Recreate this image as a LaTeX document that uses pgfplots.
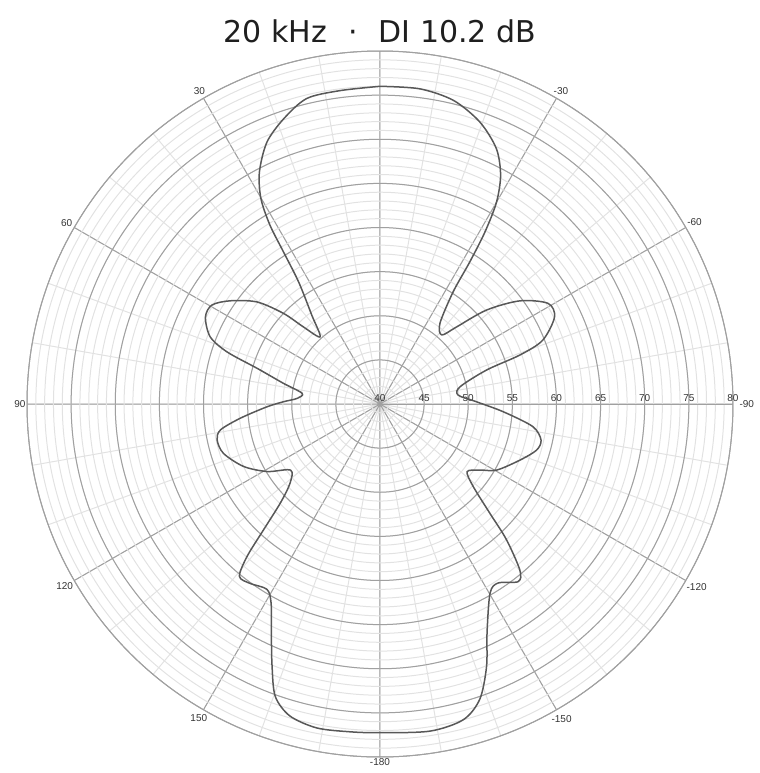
\documentclass[border=0pt]{standalone}
\usepackage{fontspec}
\setmainfont{DejaVu Sans}
\newfontfamily\tickfont{Liberation Sans}
\usepackage{pgfplots}
\usepackage{pgfplotstable}
\usepgfplotslibrary{polar}
\pgfplotsset{compat=1.18}

\definecolor{curve}{HTML}{585858}
\definecolor{majgrid}{HTML}{A0A0A0}
\definecolor{mingrid}{HTML}{E2E2E2}
\definecolor{ticktext}{HTML}{333333}

% angle: 0 = front (top), positive to the left; level in dB
\pgfplotstableread{
deg db
0 76.0
7.3 75.8
13.5 75.6
18.7 74.1
23.4 72.3
27.5 69.6
30.1 66.9
31.6 63.8
32.4 60.4
33.7 56.6
37.5 52.7
41.7 50.2
44.8 52.3
46.8 55.0
50.3 58.1
55.4 60.6
59.5 62.1
63.5 62.1
68.4 60.7
71.2 58.3
73.8 54.5
77.9 51.2
82.2 48.9
86.1 49.4
88.6 50.9
91.4 52.8
95.8 55.9
99.2 58.3
102.4 58.9
107.5 58.6
114.6 57.0
120.9 54.9
126.5 52.6
131.4 53.6
134.8 55.9
137.2 59.4
138.9 62.9
140.8 65.2
144.1 65.1
148.6 64.6
151.3 65.7
154.6 68.7
157.6 72.1
160.3 75.2
163.9 76.8
169.0 77.4
174.8 77.3
180 77.25
-171.3 77.5
-165.2 77.0
-161.3 75.3
-157.9 72.1
-154.9 68.6
-149.8 64.8
-146.6 64.3
-142.1 65.5
-139.9 64.6
-137.0 61.0
-134.8 57.5
-131.5 54.1
-127.8 52.5
-123.4 53.6
-119.5 55.2
-111.8 57.1
-106.4 58.5
-102.6 58.7
-98.4 57.5
-93.6 54.0
-88.6 50.9
-83.4 48.9
-77.8 49.3
-72.3 52.7
-70.7 56.8
-68.6 59.8
-63.5 62.1
-59.1 62.2
-53.6 59.7
-48.6 56.1
-44.8 52.3
-41.8 50.5
-36.6 51.4
-33.1 55.2
-32.3 59.0
-31.4 62.8
-30.0 66.4
-27.8 69.3
-24.5 71.8
-19.5 73.9
-13.6 75.4
-7.2 76.0
0 76.0
}\dirdata

\begin{document}
\begin{tikzpicture}
\path[use as bounding box] (-190pt,-184.5pt) rectangle (190pt,202pt);
\node[anchor=base, font=\fontsize{15}{18}\selectfont, text=black!88] at (0pt,181pt)
  {20 kHz\hspace{0.7em}·\hspace{0.7em}DI 10.2 dB};
\begin{polaraxis}[
  at={(0pt,0pt)}, anchor=center,
  scale only axis, width=353pt, height=353pt,
  xmin=0, xmax=360, ymin=0, ymax=40,
  xtick={0,30,...,330},
  xticklabels={\hspace{2.5pt}\raisebox{-1.5pt}{-90},-60,-30,,30,60,90,120,150,-180,-150,-120},
  minor xtick={0,10,...,350},
  ytick={0,5,...,40},
  yticklabels={40,45,50,55,60,65,70,75,80},
  minor ytick={1,...,39},
  grid=both,
  major grid style={majgrid, line width=0.5pt},
  minor grid style={mingrid, line width=0.5pt},
  axis line style={majgrid, line width=0.5pt},
  tick style={draw=none},
  ticklabel style={font=\tickfont\fontsize{5}{6}\selectfont, text=ticktext},
  xticklabel style={inner sep=0.6pt},
  yticklabel style={anchor=south, inner sep=1pt},
]
\addplot[curve, line width=0.75pt, smooth, tension=0.5]
  table[x expr=\thisrow{deg}+90, y expr=\thisrow{db}-40] {\dirdata};
\end{polaraxis}
\end{tikzpicture}
\end{document}
